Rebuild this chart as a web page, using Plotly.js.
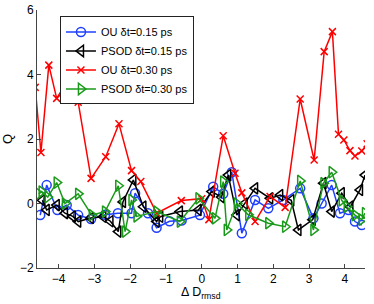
<!DOCTYPE html>
<html><head><meta charset="utf-8">
<script src="https://cdn.plot.ly/plotly-3.0.1.min.js"></script>
<style>body{margin:0;padding:0;background:#fff}#c{width:374px;height:304px}</style>
</head><body><div id="c"></div>
<script>
// OU dt=0.15 ps (blue circles)
const ou15X = [-4.51,-4.33,-4.03,-3.77,-3.45,-3.09,-2.70,-2.34,-1.96,-1.86,-1.50,-1.26,-0.90,-0.56,-0.05,0.32,0.60,0.84,1.12,1.49,1.86,2.28,2.75,3.12,3.35,3.63,3.86,4.10,4.28,4.47];
const ou15Y = [-0.36,0.57,-0.20,-0.05,-0.36,-0.48,-0.35,-0.30,-0.30,0.32,-0.30,-0.75,-0.55,-0.53,-0.36,0.52,0.30,0.97,-0.92,0.11,-0.15,0.11,0.47,-0.46,0.00,0.57,-0.30,-0.20,-0.56,-0.67];
// PSOD dt=0.15 ps (black left triangles)
const ps15X = [-4.45,-4.33,-4.05,-3.82,-3.60,-3.45,-3.10,-2.75,-2.55,-2.33,-2.20,-1.91,-1.63,-1.26,-1.16,-0.61,-0.09,0.28,0.55,0.74,0.98,1.20,1.49,1.91,2.19,2.50,2.70,3.10,3.40,3.63,3.91,4.15,4.42,4.56];
const ps15Y = [0.10,-0.20,-0.05,-0.30,-0.40,-0.56,-0.45,-0.41,-0.55,-0.87,0.05,0.73,-0.10,-0.56,-0.41,-0.25,-0.20,0.37,0.20,0.88,-0.36,0.00,0.47,0.16,0.26,0.10,-0.82,-0.50,0.63,-0.25,0.32,-0.10,0.42,0.88];
// OU dt=0.30 ps (red crosses)
const ou30X = [-4.65,-4.49,-4.27,-4.05,-3.75,-3.45,-3.09,-2.68,-2.31,-1.96,-1.70,-1.26,-0.57,0.00,0.20,0.60,0.93,1.12,1.49,1.91,2.33,2.75,3.14,3.42,3.65,3.82,3.97,4.14,4.28,4.47,4.62];
const ou30Y = [3.60,1.58,4.29,3.26,3.80,3.14,0.78,1.45,2.47,1.02,0.68,-0.30,0.09,0.15,-0.50,2.10,0.94,0.33,-0.56,0.22,-0.12,3.24,1.35,4.71,5.33,2.15,1.97,1.64,1.47,1.63,1.85];
// PSOD dt=0.30 ps (green right triangles)
const ps30X = [-4.55,-4.47,-4.30,-4.05,-3.82,-3.45,-3.07,-2.70,-2.33,-2.14,-1.96,-1.82,-1.26,-0.61,-0.09,0.37,0.60,0.70,0.98,1.30,1.86,2.33,2.75,3.12,3.40,3.63,3.91,4.05,4.28,4.47,4.56];
const ps30Y = [0.30,0.37,0.20,0.65,0.00,0.30,-0.36,-0.25,0.55,-0.87,0.11,-0.40,-0.25,-0.56,0.16,-0.46,0.68,-0.82,0.00,-0.35,-0.61,-0.72,0.70,-0.82,0.63,0.97,0.10,-0.10,-0.36,-0.50,-0.30];

const names = ['OU \u03b4t=0.15 ps','PSOD \u03b4t=0.15 ps','OU \u03b4t=0.30 ps','PSOD \u03b4t=0.30 ps'];
const xTitle = '\u0394 D<sub>rmsd</sub>';
const yTitle = 'Q';

function tr(x,y,name,color,symbol,size){
  return {x:x,y:y,name:name,type:'scatter',mode:'lines+markers',
    line:{color:color,width:1.5},
    marker:{symbol:symbol,size:size,color:color,line:{color:color,width:1.5}},
    cliponaxis:true};
}
const data = [
  tr(ou15X,ou15Y,names[0],'#1f3fff','circle-open',9),
  tr(ps15X,ps15Y,names[1],'#000000','triangle-left-open',10),
  tr(ou30X,ou30Y,names[2],'#ff0000','x-thin-open',7),
  tr(ps30X,ps30Y,names[3],'#1a9a1a','triangle-right-open',10)
];
const font = {family:'Liberation Sans, Arial, Helvetica, sans-serif',size:12,color:'#000'};
const layout = {
  width:374,height:304,
  margin:{l:37,r:9,t:10,b:36},
  paper_bgcolor:'#fff',plot_bgcolor:'#fff',
  font:font,
  showlegend:true,
  legend:{x:0.07,y:0.975,xanchor:'left',yanchor:'top',bgcolor:'#fff',bordercolor:'#222',borderwidth:1,
    font:{family:font.family,size:11,color:'#000'},tracegroupgap:0,itemwidth:30},
  annotations:[{text:xTitle,xref:'paper',yref:'paper',x:0.5,y:-0.096,xanchor:'center',yanchor:'middle',
    showarrow:false,font:{family:font.family,size:12.5,color:'#000'}}],
  xaxis:{range:[-4.6,4.56],tickvals:[-4,-3,-2,-1,0,1,2,3,4],ticktext:['\u22124','\u22123','\u22122','\u22121','0','1','2','3','4'],
    ticks:'inside',ticklen:4,tickcolor:'#444',showline:true,linecolor:'#444',linewidth:1,mirror:false,
    showgrid:false,zeroline:false},
  yaxis:{range:[-2,6],tickvals:[-2,0,2,4,6],ticktext:['\u22122','0','2','4','6'],
    ticks:'inside',ticklen:4,tickcolor:'#444',showline:true,linecolor:'#444',linewidth:1,mirror:false,
    showgrid:false,zeroline:false,
    title:{text:yTitle,font:{family:font.family,size:13,color:'#000'},standoff:4}}
};
Plotly.newPlot('c',data,layout,{displayModeBar:false,staticPlot:true});
</script></body></html>
